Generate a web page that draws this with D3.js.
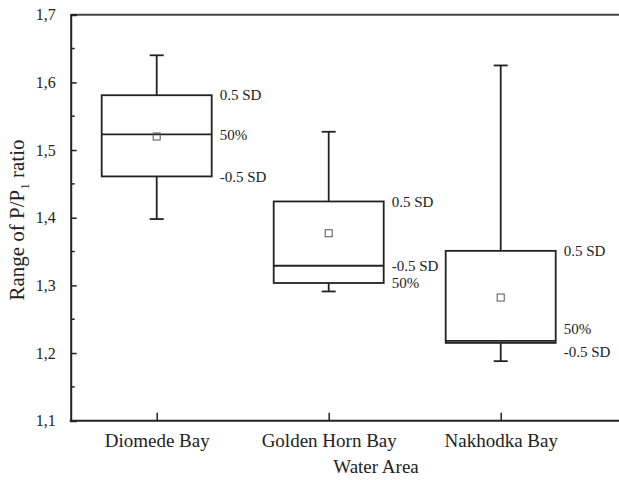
<!DOCTYPE html>
<html><head><meta charset="utf-8">
<script src="https://cdn.jsdelivr.net/npm/d3@7"></script>
<style>body{margin:0;background:#fff}svg{display:block}text{font-family:"Liberation Serif","Times New Roman",serif;fill:#222}</style>
</head><body><svg id="c" width="619" height="480"></svg>
<script>
const categories = ["Diomede Bay", "Golden Horn Bay", "Nakhodka Bay"];
const whiskerLow  = [1.398, 1.291, 1.188];
const boxLow      = [1.461, 1.3035, 1.215];
const medians     = [1.523, 1.329, 1.218];
const boxHigh     = [1.581, 1.424, 1.351];
const whiskerHigh = [1.640, 1.527, 1.625];
const means       = [1.520, 1.377, 1.282];
const yTicks = [1.1, 1.2, 1.3, 1.4, 1.5, 1.6, 1.7];
const yTickLabels = ["1,1", "1,2", "1,3", "1,4", "1,5", "1,6", "1,7"];
// label texts per box, keyed to which value they sit beside
const labelTexts = [
  ["0.5 SD", "50%", "-0.5 SD"],
  ["0.5 SD", "-0.5 SD", "50%"],
  ["0.5 SD", "50%", "-0.5 SD"]
];

const svg = d3.select("#c");
const mLeft = 70.7, mTop = 14.7, mBottom = 420.7;
const x = d3.scaleLinear().domain([0.5, 3.5]).range([mLeft, mLeft + 3 * 172]);
const y = d3.scaleLinear().domain([1.1, 1.7]).range([mBottom, mTop]);
const ink = "#222";

// frame: left, top, bottom lines
svg.append("line").attr("x1", mLeft).attr("x2", 619).attr("y1", mTop).attr("y2", mTop).attr("stroke", "#444").attr("stroke-width", 2);
const yAxis = d3.axisLeft(y).tickValues(yTicks).tickFormat((d, i) => yTickLabels[i]).tickSize(-6).tickPadding(15);
const gy = svg.append("g").attr("transform", `translate(${mLeft},0)`).call(yAxis);
gy.select(".domain").attr("stroke", ink).attr("stroke-width", 2);
gy.selectAll(".tick line").attr("stroke", ink).attr("stroke-width", 1.5);
gy.selectAll(".tick text").attr("font-size", 16).attr("font-family", "Liberation Serif").attr("fill", "#333");
// minor ticks
const minor = d3.range(1.15, 1.7, 0.1);
svg.append("g").selectAll("line").data(minor).join("line")
  .attr("x1", mLeft).attr("x2", mLeft + 4).attr("y1", d => y(d)).attr("y2", d => y(d)).attr("stroke", ink).attr("stroke-width", 1.5);

const xAxis = d3.axisBottom(x).tickValues([1, 2, 3]).tickFormat((d) => categories[d - 1]).tickSize(-8).tickPadding(13);
const gx = svg.append("g").attr("transform", `translate(0,${mBottom})`).call(xAxis);
gx.select(".domain").remove();
svg.append("line").attr("x1", mLeft - 1).attr("x2", 619).attr("y1", mBottom).attr("y2", mBottom).attr("stroke", ink).attr("stroke-width", 2);
gx.selectAll(".tick line").attr("stroke", ink).attr("stroke-width", 1.5);
gx.selectAll(".tick text").attr("font-size", 19).attr("font-family", "Liberation Serif").attr("fill", ink);

// axis titles
svg.append("text").attr("x", 376).attr("y", 473).attr("text-anchor", "middle").attr("font-size", 19).text("Water Area");
const yt = svg.append("text").attr("transform", `translate(24,220) rotate(-90)`).attr("text-anchor", "middle").attr("font-size", 21);
yt.append("tspan").text("Range of P/P");
yt.append("tspan").attr("font-size", 13).attr("dy", 5).text("1");
yt.append("tspan").attr("dy", -5).text(" ratio");

// boxes
const hw = 55;
categories.forEach((c, i) => {
  const cx = x(i + 1);
  const g = svg.append("g").attr("stroke", ink).attr("stroke-width", 1.8).attr("fill", "none");
  g.append("line").attr("x1", cx).attr("x2", cx).attr("y1", y(whiskerHigh[i])).attr("y2", y(boxHigh[i]));
  g.append("line").attr("x1", cx).attr("x2", cx).attr("y1", y(boxLow[i])).attr("y2", y(whiskerLow[i]));
  g.append("line").attr("x1", cx - 7).attr("x2", cx + 7).attr("y1", y(whiskerHigh[i])).attr("y2", y(whiskerHigh[i]));
  g.append("line").attr("x1", cx - 7).attr("x2", cx + 7).attr("y1", y(whiskerLow[i])).attr("y2", y(whiskerLow[i]));
  g.append("rect").attr("x", cx - hw).attr("width", 2 * hw).attr("y", y(boxHigh[i])).attr("height", y(boxLow[i]) - y(boxHigh[i]));
  g.append("line").attr("x1", cx - hw).attr("x2", cx + hw).attr("y1", y(medians[i])).attr("y2", y(medians[i]));
  svg.append("rect").attr("x", cx - 3.5).attr("y", y(means[i]) - 3.5).attr("width", 7).attr("height", 7)
    .attr("fill", "none").attr("stroke", "#555").attr("stroke-width", 1);
  // labels
  const vals = [boxHigh[i], medians[i], boxLow[i]];
  const nudges = i === 2 ? [0, -12, 9] : [0, 0, 0];
  vals.forEach((v, k) => {
    svg.append("text").attr("x", cx + hw + 8).attr("y", y(v) + nudges[k]).attr("dy", "0.35em")
      .attr("font-size", 15).text(labelTexts[i][k]);
  });
});
</script></body></html>
